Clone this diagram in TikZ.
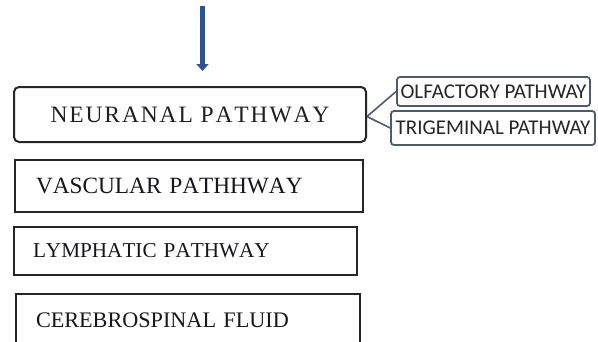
\documentclass[tikz,border=0pt]{standalone}
\usepackage{fontspec}
\setmainfont[Kerning=Off]{Liberation Serif}
\newfontfamily\calib{Carlito}
\usetikzlibrary{arrows.meta}
\definecolor{arrowblue}{HTML}{2E5290}
\definecolor{slate}{HTML}{4A5B72}
\definecolor{boxline}{HTML}{262626}
\definecolor{txt}{HTML}{16161E}
\tikzset{
  bigbox/.style={draw=boxline, line width=2pt, fill=white, inner ysep=0pt, align=left, text=txt, font=\fontsize{23.3}{25}\selectfont},
  smallbox/.style={draw=slate, line width=1.8pt, rounded corners=3pt, fill=white, inner sep=0pt, text=black!85, font=\calib\fontsize{21}{23}\selectfont},
  link/.style={draw=slate, line width=1.6pt},
}
\begin{document}
\begin{tikzpicture}[x=1pt,y=-1pt]
\clip (0,0) rectangle (598,341);
\fill[white] (0,0) rectangle (598,341);
% top arrow
\coordinate (arrtop) at (202.5,6);
\coordinate (arrtip) at (202.5,71);
\draw[arrowblue, line width=5pt, -{Triangle[width=12pt,length=7pt]}] (arrtop) -- (arrtip);
% neuronal pathway box
\node[bigbox, rounded corners=5pt, minimum width=352pt, minimum height=55pt, align=center, inner xsep=0pt,
  font=\addfontfeature{LetterSpace=8}\fontsize{23.5}{25}\selectfont, text=black!88] (neur) at (190,114.5) {NEURANAL PATHWAY};
% other boxes
\node[bigbox, minimum height=52pt, inner xsep=21pt, text width=306pt] (vasc) at (189,186) {VASCULAR PATHHWAY};
\node[bigbox, minimum height=48pt, inner xsep=19pt, text width=305pt, font=\fontsize{21.2}{23}\selectfont] (lymph) at (185.5,251) {LYMPHATIC PATHWAY};
\node[bigbox, minimum height=52pt, inner xsep=20pt, text width=304pt, font=\fontsize{22.2}{24}\selectfont] (csf) at (188,320) {CEREBROSPINAL FLUID};
% side boxes
\node[smallbox, minimum width=193pt, minimum height=29pt] (olf) at (493.5,91.5) {OLFACTORY PATHWAY};
\node[smallbox, minimum width=204pt, minimum height=34pt] (trig) at (493,128) {TRIGEMINAL PATHWAY};
% connectors
\coordinate (junc) at ([yshift=-2pt]neur.east);
\draw[link] (junc) -- (olf.west);
\draw[link] (junc) -- (trig.west);
\end{tikzpicture}
\end{document}
